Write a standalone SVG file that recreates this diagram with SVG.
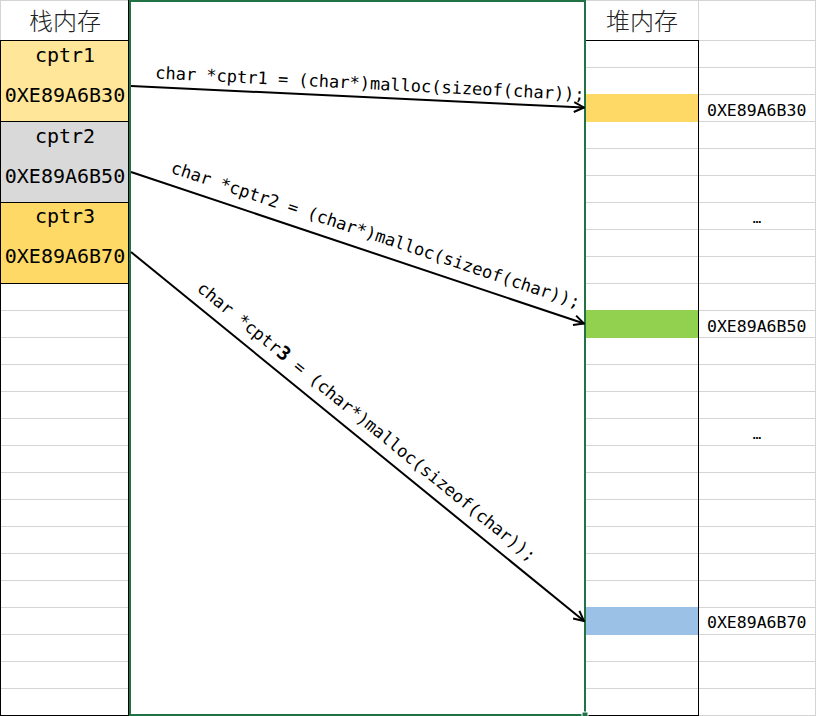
<svg xmlns="http://www.w3.org/2000/svg" width="816" height="716" viewBox="0 0 816 716">
<style>
.grid{stroke:#d4d4d4;stroke-width:1;fill:none}
.blk{stroke:#000;stroke-width:1;fill:none}
.mono{font-family:"DejaVu Sans Mono","Liberation Mono",monospace;fill:#000}
.cell{font-size:20px;text-anchor:middle}
.addr{font-size:16.5px}
.code{font-size:17px}
.hdr{font-family:"Noto Sans CJK SC","Noto Sans",sans-serif;font-size:24px;text-anchor:middle;fill:#222;font-weight:300}
.conn{stroke:#000;stroke-width:2;fill:none;marker-end:url(#arr)}
</style>
<defs>
<marker id="arr" viewBox="0 0 12 12" refX="11" refY="6" markerWidth="12" markerHeight="12" markerUnits="userSpaceOnUse" orient="auto">
<path d="M1,1 L11,6 L1,11" fill="none" stroke="#000" stroke-width="2"/>
</marker>
</defs>
<rect x="0" y="0" width="816" height="716" fill="#fff"/>
<g id="gridlines">
<path class="grid" d="M0,0.5H816 M698.5,0V40 M815.5,0V716 M0.5,0V40"/>
<path class="grid" d="M0,310.5H129 M0,337.5H129 M0,364.5H129 M0,391.5H129 M0,418.5H129 M0,445.5H129 M0,472.5H129 M0,499.5H129 M0,526.5H129 M0,553.5H129 M0,580.5H129 M0,607.5H129 M0,634.5H129 M0,661.5H129 M0,688.5H129"/>
<path class="grid" d="M586,67.5H816 M586,94.5H816 M586,121.5H816 M586,148.5H816 M586,175.5H816 M586,202.5H816 M586,229.5H816 M586,256.5H816 M586,283.5H816 M586,310.5H816 M586,337.5H816 M586,364.5H816 M586,391.5H816 M586,418.5H816 M586,445.5H816 M586,472.5H816 M586,499.5H816 M586,526.5H816 M586,553.5H816 M586,580.5H816 M586,607.5H816 M586,634.5H816 M586,661.5H816 M586,688.5H816 M698,715.5H816 M698,40.5H816"/>
</g>
<g id="stack-header"><text class="hdr" x="65" y="30">栈内存</text></g>
<g id="cptr1">
<rect x="1" y="41" width="128" height="80" fill="#ffe699"/>
<text class="mono cell" x="65" y="62">cptr1</text>
<text class="mono cell" x="65" y="101.5">0XE89A6B30</text>
</g>
<g id="cptr2">
<rect x="1" y="122" width="128" height="80" fill="#d9d9d9"/>
<text class="mono cell" x="65" y="143">cptr2</text>
<text class="mono cell" x="65" y="182.5">0XE89A6B50</text>
</g>
<g id="cptr3">
<rect x="1" y="203" width="128" height="80" fill="#ffd966"/>
<text class="mono cell" x="65" y="223">cptr3</text>
<text class="mono cell" x="65" y="263">0XE89A6B70</text>
</g>
<g id="stack-borders">
<path class="blk" d="M0,40.5H129 M0,121.5H129 M0,202.5H129 M0,283.5H129 M0.5,40V716 M128.5,0V716 M0,715.5H129"/>
</g>
<g id="heap-header"><text class="hdr" x="642" y="30">堆内存</text></g>
<g id="heap1">
<rect x="586" y="94" width="112" height="28" fill="#ffd966"/>
<text class="mono addr" x="707" y="115.5">0XE89A6B30</text>
</g>
<g id="heap2">
<rect x="586" y="310" width="112" height="28" fill="#92d050"/>
<text class="mono addr" x="707" y="331.5">0XE89A6B50</text>
</g>
<g id="heap3">
<rect x="586" y="607" width="112" height="28" fill="#9bc2e6"/>
<text class="mono addr" x="707" y="627.5">0XE89A6B70</text>
</g>
<g id="ellipsis">
<text class="mono" x="757" y="223" font-size="14" text-anchor="middle">…</text>
<text class="mono" x="757" y="439" font-size="14" text-anchor="middle">…</text>
</g>
<g id="heap-borders">
<path class="blk" d="M586,40.5H698 M698.5,40V716 M586,715.5H698"/>
</g>
<g id="selection">
<rect x="130" y="1" width="455" height="714" fill="none" stroke="#217346" stroke-width="2"/>
<rect x="582" y="712" width="6" height="6" fill="#217346" stroke="#fff" stroke-width="1"/>
</g>
<g id="connectors">
<line class="conn" x1="131" y1="86" x2="584" y2="107.5"/>
<line class="conn" x1="131" y1="172" x2="584" y2="323.5"/>
<line class="conn" x1="131" y1="252" x2="584" y2="621"/>
</g>
<g id="labels">
<text class="mono code" transform="translate(155,78.5) rotate(2.9)">char *cptr1 = (char*)malloc(sizeof(char));</text>
<text class="mono code" transform="translate(170,172.6) rotate(18.4)">char *cptr2 = (char*)malloc(sizeof(char));</text>
<text class="mono code" transform="translate(196,290) rotate(39.2)">char *cptr<tspan font-weight="bold" font-size="19">3</tspan> = (char*)malloc(sizeof(char));</text>
</g>
</svg>
